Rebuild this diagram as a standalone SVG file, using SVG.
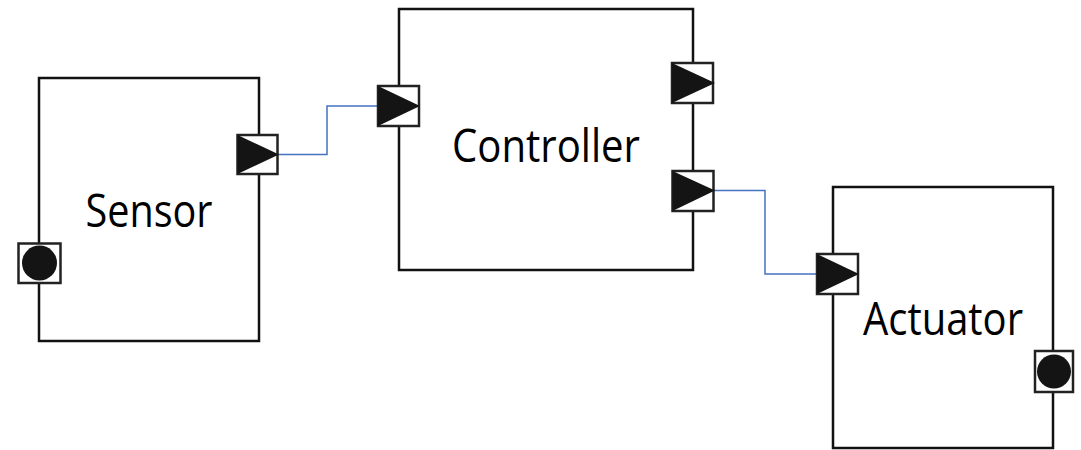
<svg xmlns="http://www.w3.org/2000/svg" width="1081" height="450" viewBox="0 0 1081 450">
<style>
.box{fill:#fff;stroke:#111;stroke-width:2.5}
.port{fill:#fff;stroke:#222;stroke-width:2.5}
.tri{fill:#141414}
.dot{fill:#141414}
.lbl{font-family:"Open Sans","Noto Sans",sans-serif;font-size:46px;fill:#000;text-anchor:middle}
.wire{fill:none;stroke:#4472C4;stroke-width:1.5}
</style>
<rect width="1081" height="450" fill="#fff"/>
<g id="connectors">
<path class="wire" d="M278,154.5 H327 V106 H378"/>
<path class="wire" d="M714,190.5 H765 V274 H817"/>
</g>
<g id="sensor">
<rect class="box" x="39" y="78" width="220" height="263"/>
<text class="lbl" x="149" y="227" textLength="127" lengthAdjust="spacingAndGlyphs">Sensor</text>
<g id="sensor-out">
<rect class="port" x="237.5" y="135" width="40" height="39"/>
<polygon class="tri" points="237.5,135 237.5,174 279,154.5"/>
</g>
<g id="sensor-power">
<rect class="port" x="18.5" y="243.5" width="42" height="39.5"/>
<circle class="dot" cx="39.5" cy="263" r="17.5"/>
</g>
</g>
<g id="controller">
<rect class="box" x="399" y="9" width="294" height="261"/>
<text class="lbl" x="546" y="162" textLength="188" lengthAdjust="spacingAndGlyphs">Controller</text>
<g id="controller-in">
<rect class="port" x="378" y="86" width="41" height="40"/>
<polygon class="tri" points="378,86 378,126 420,106"/>
</g>
<g id="controller-out1">
<rect class="port" x="672" y="63" width="41" height="40"/>
<polygon class="tri" points="672,63 672,103 715,83"/>
</g>
<g id="controller-out2">
<rect class="port" x="672.5" y="171" width="41" height="40"/>
<polygon class="tri" points="672.5,171 672.5,211 715,190.5"/>
</g>
</g>
<g id="actuator">
<rect class="box" x="833" y="187" width="220" height="261"/>
<text class="lbl" x="943" y="335" textLength="160" lengthAdjust="spacingAndGlyphs">Actuator</text>
<g id="actuator-in">
<rect class="port" x="817" y="254" width="41" height="40"/>
<polygon class="tri" points="817,254 817,294 859,274"/>
</g>
<g id="actuator-power">
<rect class="port" x="1035" y="351" width="38" height="41"/>
<circle class="dot" cx="1054" cy="371.5" r="17"/>
</g>
</g>
</svg>
